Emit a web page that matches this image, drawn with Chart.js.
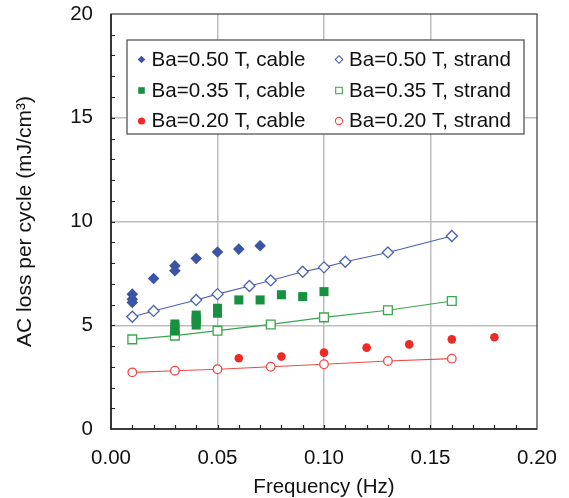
<!DOCTYPE html>
<html>
<head>
<meta charset="utf-8">
<script src="https://cdn.jsdelivr.net/npm/chart.js@4/dist/chart.umd.min.js"></script>
<style>
html,body{margin:0;padding:0;background:#fff;}
#wrap{width:569px;height:498px;}
</style>
</head>
<body>
<div id="wrap"><canvas id="c" width="569" height="498"></canvas></div>
<script>
// ---- data ----
const cable050X = [0.01, 0.01, 0.01, 0.02, 0.03, 0.03, 0.04, 0.05, 0.06, 0.07];
const cable050Y = [6.50, 6.25, 6.10, 7.25, 7.87, 7.63, 8.22, 8.53, 8.67, 8.83];
const strand050X = [0.01, 0.02, 0.04, 0.05, 0.065, 0.075, 0.09, 0.10, 0.11, 0.13, 0.16];
const strand050Y = [5.41, 5.69, 6.22, 6.50, 6.89, 7.16, 7.58, 7.79, 8.06, 8.51, 9.30];
const cable035X = [0.03, 0.03, 0.03, 0.04, 0.04, 0.04, 0.04, 0.05, 0.05, 0.06, 0.07, 0.08, 0.09, 0.10];
const cable035Y = [5.06, 4.90, 4.72, 5.49, 5.33, 5.17, 5.01, 5.82, 5.58, 6.22, 6.22, 6.47, 6.38, 6.62];
const strand035X = [0.01, 0.03, 0.05, 0.075, 0.10, 0.13, 0.16];
const strand035Y = [4.32, 4.50, 4.74, 5.04, 5.38, 5.72, 6.17];
const cable020X = [0.06, 0.08, 0.10, 0.12, 0.14, 0.16, 0.18];
const cable020Y = [3.41, 3.49, 3.68, 3.92, 4.08, 4.32, 4.42];
const strand020X = [0.01, 0.03, 0.05, 0.075, 0.10, 0.13, 0.16];
const strand020Y = [2.73, 2.81, 2.88, 3.00, 3.12, 3.28, 3.39];
const seriesLabels = ['Ba=0.50 T, cable', 'Ba=0.50 T, strand', 'Ba=0.35 T, cable', 'Ba=0.35 T, strand', 'Ba=0.20 T, cable', 'Ba=0.20 T, strand'];
const xTickValues = [0.00, 0.05, 0.10, 0.15, 0.20];
const yTickValues = [0, 5, 10, 15, 20];
const xTitle = 'Frequency (Hz)';
const yTitle = 'AC loss per cycle (mJ/cm\u00B3)';

const BLUE = '#3a54a6', GREEN = '#17903f', RED = '#ee2a26';
const BLUE_L = '#4b62b5', GREEN_L = '#3aa64e', RED_L = '#f04a48';
const FONT = 'Liberation Sans, Arial, Helvetica, sans-serif';

function pts(xs, ys){ return xs.map((x,i)=>({x:x, y:ys[i]})); }

const datasets = [
  {label: seriesLabels[0], data: pts(cable050X, cable050Y), pointStyle:'rectRot', pointRadius:5.8, backgroundColor:BLUE, borderColor:BLUE, borderWidth:0, showLine:false, order:1},
  {label: seriesLabels[1], data: pts(strand050X, strand050Y), pointStyle:'rectRot', pointRadius:5.5, backgroundColor:'#fff', borderColor:BLUE_L, pointBorderWidth:1.3, borderWidth:1.1, showLine:true, order:2},
  {label: seriesLabels[2], data: pts(cable035X, cable035Y), pointStyle:'rect', pointRadius:6.4, backgroundColor:GREEN, borderColor:GREEN, borderWidth:0, showLine:false, order:1},
  {label: seriesLabels[3], data: pts(strand035X, strand035Y), pointStyle:'rect', pointRadius:6.2, backgroundColor:'#fff', borderColor:GREEN_L, pointBorderWidth:1.3, borderWidth:1.1, showLine:true, order:2},
  {label: seriesLabels[4], data: pts(cable020X, cable020Y), pointStyle:'circle', pointRadius:4.3, backgroundColor:RED, borderColor:RED, borderWidth:0, showLine:false, order:1},
  {label: seriesLabels[5], data: pts(strand020X, strand020Y), pointStyle:'circle', pointRadius:4.3, backgroundColor:'#fff', borderColor:RED_L, pointBorderWidth:1.3, borderWidth:1.1, showLine:true, order:2}
];
datasets.forEach(d=>{ d.pointHoverRadius = d.pointRadius; d.fill=false; d.tension=0; });

// frame, inward ticks and legend
const decor = {
  id:'decor',
  afterDraw(chart){
    const ctx = chart.ctx, a = chart.chartArea;
    const xs = chart.scales.x, ys = chart.scales.y;
    ctx.save();
    ctx.strokeStyle = '#4a4a4a';
    ctx.lineWidth = 1.3;
    ctx.strokeRect(a.left, a.top, a.right - a.left, a.bottom - a.top);
    ctx.strokeStyle = '#222';
    ctx.lineWidth = 1.6;
    ctx.beginPath();
    ctx.moveTo(a.left, a.top); ctx.lineTo(a.left, a.bottom); ctx.lineTo(a.right, a.bottom);
    ctx.stroke();
    ctx.lineWidth = 1.2;
    ctx.beginPath();
    for (let i = 1; i < 20; i++) {
      const v = xs.min + (xs.max - xs.min) * i / 20;
      const px = Math.round(xs.getPixelForValue(v)) + 0.5;
      ctx.moveTo(px, a.bottom); ctx.lineTo(px, a.bottom - 4);
    }
    for (let i = 1; i < 20; i++) {
      const py = Math.round(ys.getPixelForValue(i)) + 0.5;
      ctx.moveTo(a.left, py); ctx.lineTo(a.left + 4, py);
    }
    ctx.stroke();

    // legend
    const L = {x:127, y:40, w:397, h:94};
    ctx.fillStyle = '#fff';
    ctx.fillRect(L.x, L.y, L.w, L.h);
    ctx.strokeStyle = '#555';
    ctx.lineWidth = 1.3;
    ctx.strokeRect(L.x, L.y, L.w, L.h);
    const rows = [59.5, 90.5, 121];
    const markX = [141.5, 339], textX = [151.5, 349];
    ctx.font = '20.6px ' + FONT;
    ctx.textBaseline = 'middle';
    ctx.textAlign = 'left';
    chart.data.datasets.forEach((d, i) => {
      const col = i % 2, row = Math.floor(i / 2);
      const cx = markX[col], cy = rows[row];
      const filled = col === 0;
      ctx.beginPath();
      if (d.pointStyle === 'rectRot') {
        const r = 3.8;
        ctx.moveTo(cx, cy - r); ctx.lineTo(cx + r, cy); ctx.lineTo(cx, cy + r); ctx.lineTo(cx - r, cy); ctx.closePath();
      } else if (d.pointStyle === 'rect') {
        const h = 3.3;
        ctx.rect(cx - h, cy - h, 2 * h, 2 * h);
      } else {
        ctx.arc(cx, cy, 3.6, 0, Math.PI * 2);
      }
      if (filled) { ctx.fillStyle = d.backgroundColor; ctx.fill(); }
      else { ctx.fillStyle = '#fff'; ctx.fill(); ctx.strokeStyle = d.borderColor; ctx.lineWidth = 1.1; ctx.stroke(); }
      ctx.fillStyle = '#111';
      ctx.fillText(d.label, textX[col], cy + 0.5);
    });
    ctx.restore();
  }
};

new Chart(document.getElementById('c'), {
  type: 'scatter',
  data: {datasets},
  options: {
    responsive: false,
    animation: false,
    devicePixelRatio: 1,
    layout: {padding: {left: 0, right: 32, top: 14, bottom: 0}},
    plugins: {legend: {display: false}, tooltip: {enabled: false}},
    scales: {
      x: {
        type: 'linear', min: 0, max: 0.2,
        afterBuildTicks(s){ s.ticks = xTickValues.map(v => ({value: v})); },
        afterFit(s){ s.height = 69; s.paddingLeft = 0; s.paddingRight = 0; },
        ticks: {color: '#111', font: {family: FONT, size: 20.5}, padding: 17, maxRotation: 0, autoSkip: false,
          callback: v => Number(v).toFixed(2)},
        grid: {drawTicks: false, lineWidth: 1.5,
          color: c => (c.tick && (c.tick.value <= 0 || c.tick.value >= 0.2)) ? 'rgba(0,0,0,0)' : '#bdbdbd'},
        border: {display: false},
        title: {display: true, text: xTitle, color: '#111', font: {family: FONT, size: 20.5}, padding: {top: 0, bottom: -2}}
      },
      y: {
        type: 'linear', min: 0, max: 20,
        afterBuildTicks(s){ s.ticks = yTickValues.map(v => ({value: v})); },
        afterFit(s){ s.width = 111; s.paddingTop = 0; s.paddingBottom = 0; },
        ticks: {color: '#111', font: {family: FONT, size: 20.5}, padding: 18, autoSkip: false,
          callback: v => String(v)},
        grid: {drawTicks: false, lineWidth: 1.5,
          color: c => (c.tick && (c.tick.value <= 0 || c.tick.value >= 20)) ? 'rgba(0,0,0,0)' : '#bdbdbd'},
        border: {display: false},
        title: {display: true, text: yTitle, color: '#111', font: {family: FONT, size: 21}, padding: {top: 13, bottom: 0}}
      }
    }
  },
  plugins: [decor]
});
</script>
</body>
</html>
